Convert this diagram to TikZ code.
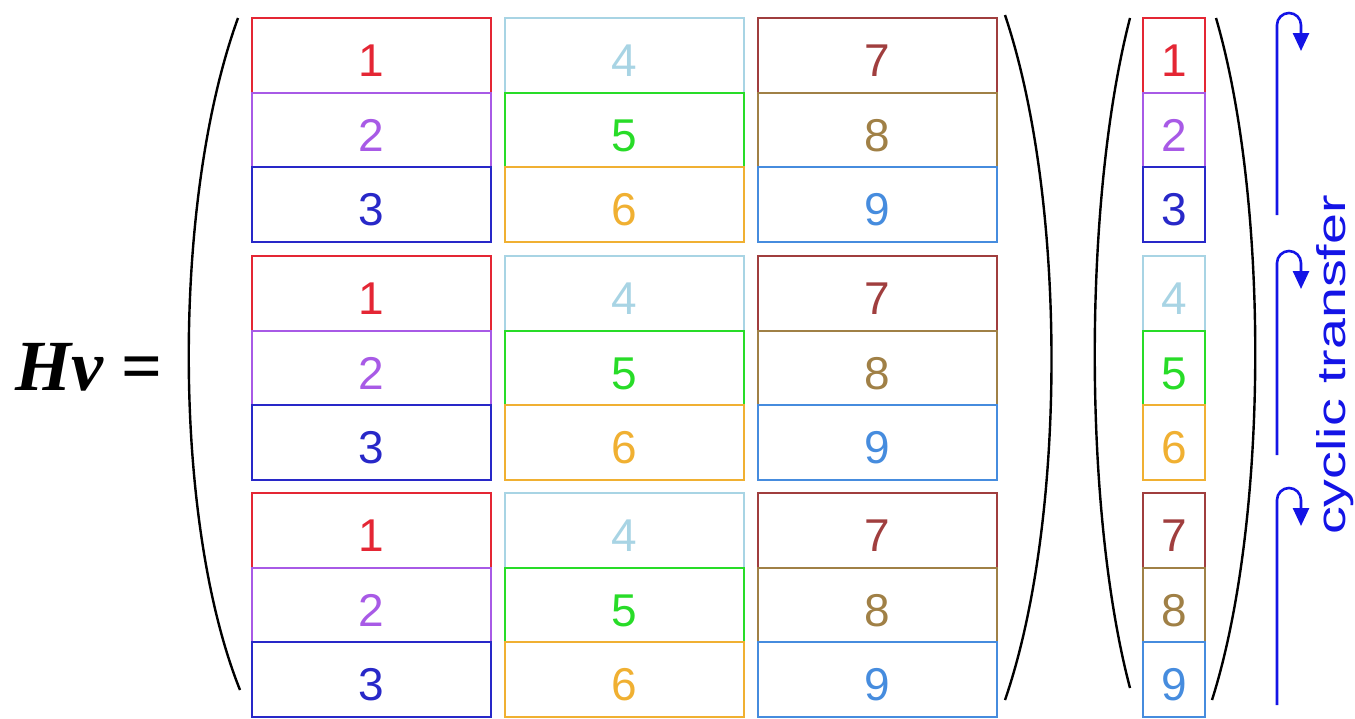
\documentclass[tikz,border=0pt]{standalone}
\usepackage{fontspec}
\setmainfont{Liberation Serif}
\newfontfamily\digitfont{Liberation Sans}
\usetikzlibrary{arrows.meta, positioning}
\definecolor{c1}{RGB}{228, 38, 52}
\definecolor{c2}{RGB}{168, 90, 230}
\definecolor{c3}{RGB}{40, 40, 200}
\definecolor{c4}{RGB}{168, 212, 228}
\definecolor{c5}{RGB}{40, 220, 40}
\definecolor{c6}{RGB}{240, 176, 50}
\definecolor{c7}{RGB}{160, 62, 62}
\definecolor{c8}{RGB}{160, 128, 70}
\definecolor{c9}{RGB}{70, 140, 222}
\definecolor{cyclicblue}{RGB}{20, 20, 230}

\begin{document}
\begin{tikzpicture}[
			x=0.5pt, y=-0.5pt,
			cell/.style={rectangle, draw, line width=1pt, minimum width=119.5pt, minimum height=37.25pt, inner sep=0pt, text height=21.5pt, text depth=0pt, font=\digitfont\fontsize{23}{23}\selectfont},
			vcell/.style={cell, minimum width=31pt},
			paren/.style={line width=1.2pt, black},
			cyc/.style={draw=cyclicblue, line width=1.3pt, -{Triangle[length=9pt, width=8pt]}}
		]
		\useasboundingbox (0,0) rectangle (1355,718);
		% left side
		\node[anchor=base, font=\fontsize{36}{36}\selectfont] (lhs) at (89,390) {\textbf{\textit{Hv}} \textbf{=}};
		% matrix blocks and vector
		\foreach \b/\top in {1/18, 2/256, 3/493} {
			\foreach \c/\cx in {1/371.5, 2/624.5, 3/877.5} {
				\foreach \r in {1,2,3} {
					\pgfmathtruncatemacro{\n}{3*(\c-1)+\r}
					\node[cell, draw=c\n, text=c\n] (m-\b-\r-\c) at (\cx, \top+74.5*\r-37.25) {\n};
				}
			}
			\foreach \r in {1,2,3} {
				\pgfmathtruncatemacro{\n}{3*(\b-1)+\r}
				\node[vcell, draw=c\n, text=c\n] (v-\b-\r) at (1174, \top+74.5*\r-37.25) {\n};
			}
		}
		% parentheses
		\draw[paren] (238,18) .. controls (172,200) and (172,520) .. (240,690);
		\draw[paren] (1005,15) .. controls (1067,200) and (1067,520) .. (1005,700);
		\draw[paren] (1130,18) .. controls (1083,200) and (1083,510) .. (1130,688);
		\draw[paren] (1216,18) .. controls (1269,200) and (1269,520) .. (1212,700);
		% cyclic transfer arrows
		\foreach \b/\top/\bot in {1/18/215, 2/256/455, 3/493/705} {
			\coordinate (s-\b) at (1277,\bot);
			\coordinate (t-\b) at (1301,\top+33);
			\draw[cyc] (s-\b) -- (1277,\top+7) arc[start angle=180, end angle=360, radius=12] -- (t-\b);
		}
		\node[rotate=90, text=cyclicblue, font=\digitfont\fontsize{20}{20}\selectfont] (label) at (1335,365) {\scalebox{1.39}[1]{cyclic transfer}};
\end{tikzpicture}
\end{document}
